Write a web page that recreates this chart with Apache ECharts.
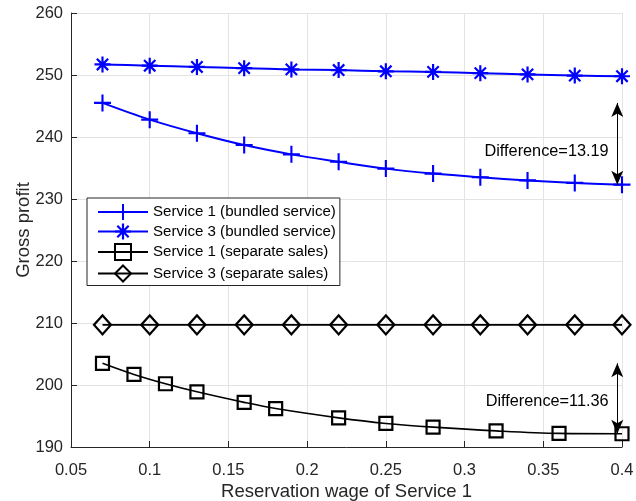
<!DOCTYPE html>
<html>
<head>
<meta charset="utf-8">
<script src="https://cdn.jsdelivr.net/npm/echarts@6/dist/echarts.min.js"></script>
<style>
  html, body { margin: 0; padding: 0; background: #fff; }
  #chart { width: 636px; height: 501px; }
</style>
</head>
<body>
<div id="chart"></div>
<script>
// Reservation wage of Service 1 (x values)
const wageGrid = [0.07, 0.10, 0.13, 0.16, 0.19, 0.22, 0.25, 0.28, 0.31, 0.34, 0.37, 0.40];
const wageSeparate1 = [0.07, 0.09, 0.11, 0.13, 0.16, 0.18, 0.22, 0.25, 0.28, 0.32, 0.36, 0.40];

// Gross profit per scenario
const bundledService1 = [245.5, 242.8, 240.6, 238.7, 237.2, 236.0, 234.9, 234.1, 233.5, 233.0, 232.6, 232.31];
const bundledService3 = [251.7, 251.5, 251.3, 251.1, 250.9, 250.8, 250.6, 250.5, 250.3, 250.1, 249.9, 249.8];
const separateService1 = [203.5, 201.7, 200.2, 198.9, 197.2, 196.2, 194.7, 193.8, 193.2, 192.6, 192.2, 192.14];
const separateService3 = [209.7, 209.7, 209.7, 209.7, 209.7, 209.7, 209.7, 209.7, 209.7, 209.7, 209.7, 209.7];

const seriesNames = [
  'Service 1 (bundled service)',
  'Service 3 (bundled service)',
  'Service 1 (separate sales)',
  'Service 3 (separate sales)'
];

const pairs = (xs, ys) => xs.map((x, i) => [x, ys[i]]);

// Marker glyphs drawn as filled outlines
const PLUS = 'path://M-1,-8h2v16h-2z M-8,-1h16v2h-16z';
const h = 1.1, d = 5.66, e = h * 0.7071;
const STAR = 'path://M-' + h + ',-8h' + 2 * h + 'v16h-' + 2 * h + 'z ' +
  'M-8,-' + h + 'h16v' + 2 * h + 'h-16z ' +
  'M' + (-d + e) + ',' + (-d - e) + 'L' + (d + e) + ',' + (d - e) + 'L' + (d - e) + ',' + (d + e) + 'L' + (-d - e) + ',' + (-d + e) + 'z ' +
  'M' + (d - e) + ',' + (-d - e) + 'L' + (d + e) + ',' + (-d + e) + 'L' + (-d + e) + ',' + (d + e) + 'L' + (-d - e) + ',' + (d - e) + 'z';

const textColor = '#262626';
const arrowX = 0.397;

const diffTop = bundledService1[0] - bundledService1[bundledService1.length - 1];
const diffBottom = separateService1[0] - separateService1[separateService1.length - 1];

function differenceArrow(yFrom, yTo) {
  return {
    silent: true,
    symbol: ['arrow', 'arrow'],
    lineStyle: { color: '#000', width: 1, type: 'solid' },
    label: { show: false },
    data: [[
      { coord: [arrowX, yFrom], symbolSize: [9, 14] },
      { coord: [arrowX, yTo], symbolSize: [9, 14] }
    ]]
  };
}

function differenceText(yPos, value) {
  return {
    silent: true,
    symbol: 'rect',
    symbolSize: 0,
    label: {
      show: true,
      position: 'left',
      distance: 0,
      color: '#000',
      fontSize: 16.3,
      fontFamily: 'Liberation Sans, Arial, sans-serif',
      formatter: 'Difference=' + value.toFixed(2)
    },
    data: [{ coord: [0.3915, yPos] }]
  };
}

const chart = echarts.init(document.getElementById('chart'), null, { renderer: 'canvas' });

chart.setOption({
  animation: false,
  backgroundColor: '#fff',
  textStyle: { fontFamily: 'Liberation Sans, Arial, sans-serif' },
  grid: { left: 71, right: 14, top: 13, bottom: 54, containLabel: false, outerBoundsMode: 'none' },
  legend: {
    orient: 'vertical',
    left: 87,
    top: 198,
    padding: [6, 4, 3, 10],
    itemWidth: 50,
    itemHeight: 20,
    itemGap: 3.5,
    backgroundColor: '#fff',
    borderColor: '#262626',
    borderWidth: 1,
    borderRadius: 0,
    textStyle: { fontSize: 15.1, color: '#000', fontFamily: 'Liberation Sans, Arial, sans-serif' },
    data: seriesNames
  },
  xAxis: {
    type: 'value',
    min: 0.05,
    max: 0.4,
    interval: 0.05,
    name: 'Reservation wage of Service 1',
    nameLocation: 'middle',
    nameGap: 35,
    nameMoveOverlap: false,
    nameTextStyle: { fontSize: 18.5, color: textColor },
    axisLine: { show: true, lineStyle: { color: textColor, width: 1 } },
    axisTick: { show: true, inside: true, length: 6, lineStyle: { color: textColor } },
    axisLabel: {
      fontSize: 16.5, color: textColor, margin: 15,
      formatter: v => String(Math.round(v * 100) / 100)
    },
    splitLine: { show: true, lineStyle: { color: '#e3e3e3', width: 1 } }
  },
  yAxis: {
    type: 'value',
    min: 190,
    max: 260,
    interval: 10,
    name: 'Gross profit',
    nameLocation: 'middle',
    nameGap: 38,
    nameMoveOverlap: false,
    nameTextStyle: { fontSize: 18.5, color: textColor },
    axisLine: { show: true, lineStyle: { color: textColor, width: 1 } },
    axisTick: { show: true, inside: true, length: 6, lineStyle: { color: textColor } },
    axisLabel: { fontSize: 16.5, color: textColor, margin: 8 },
    splitLine: { show: true, lineStyle: { color: '#e3e3e3', width: 1 } }
  },
  series: [
    {
      name: seriesNames[0],
      type: 'line',
      data: pairs(wageGrid, bundledService1),
      smooth: 0.35,
      symbol: PLUS,
      symbolSize: 17,
      lineStyle: { color: '#0000ff', width: 2 },
      itemStyle: { color: '#0000ff', borderWidth: 0 },
      z: 2,
      markLine: differenceArrow(bundledService1[0], bundledService1[bundledService1.length - 1]),
      markPoint: differenceText(237.6, diffTop)
    },
    {
      name: seriesNames[1],
      type: 'line',
      data: pairs(wageGrid, bundledService3),
      smooth: 0.2,
      symbol: STAR,
      symbolSize: 16,
      lineStyle: { color: '#0000ff', width: 2 },
      itemStyle: { color: '#0000ff', borderWidth: 0 },
      z: 2
    },
    {
      name: seriesNames[2],
      type: 'line',
      data: pairs(wageSeparate1, separateService1),
      smooth: 0.35,
      symbol: 'rect',
      symbolSize: 13,
      lineStyle: { color: '#000', width: 1.6 },
      itemStyle: { color: 'rgba(255,255,255,0)', borderColor: '#000', borderWidth: 2.2 },
      z: 2,
      markLine: differenceArrow(separateService1[0], separateService1[separateService1.length - 1]),
      markPoint: differenceText(197.3, diffBottom)
    },
    {
      name: seriesNames[3],
      type: 'line',
      data: pairs(wageGrid, separateService3),
      symbol: 'diamond',
      symbolSize: [17, 19],
      lineStyle: { color: '#000', width: 1.6 },
      itemStyle: { color: 'rgba(255,255,255,0)', borderColor: '#000', borderWidth: 2.2 },
      z: 2
    }
  ]
});
</script>
</body>
</html>
